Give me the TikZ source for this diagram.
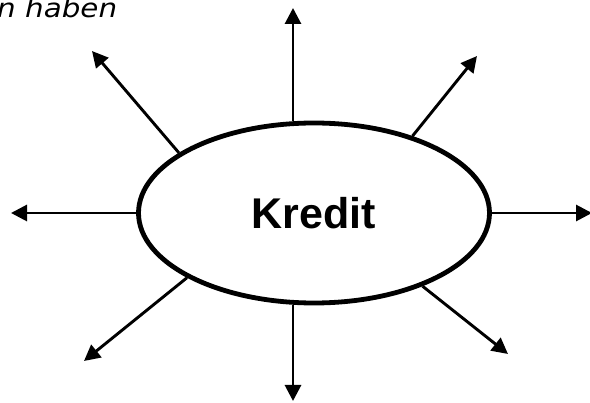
\documentclass[tikz,border=0pt]{standalone}
\usepackage{fontspec}
\setmainfont{Liberation Sans}
\newfontfamily\handfont{DejaVu Sans}
\usetikzlibrary{arrows.meta,shapes.geometric}
\begin{document}
\begin{tikzpicture}[x=1pt,y=-1pt,
  ray/.style={line width=2.9pt,-{Triangle[length=16pt,width=16pt]}},
  hub/.style={ellipse,draw,line width=4.8pt,minimum width=351pt,minimum height=180pt,
    inner sep=0pt,font=\fontsize{43}{50}\selectfont\bfseries}]
  \useasboundingbox (0,0) rectangle (590,403);
  \clip (0,0) rectangle (590,403);
  % handwritten-looking note in the corner, partly running off the edge
  \node[anchor=base west,inner sep=0pt,font=\handfont\itshape\fontsize{26}{28}\selectfont] (note) at (-3,18) {\scalebox{1.13}[1]{n haben}};
  \node[hub] (k) at (314,213) {Kredit};
  \coordinate (tn) at (293,8);
  \coordinate (ts) at (293,401);
  \coordinate (tw) at (11,213);
  \coordinate (te) at (592,213);
  \coordinate (tne) at (477,56);
  \coordinate (tnw) at (92,51);
  \coordinate (tsw) at (84,361);
  \coordinate (tse) at (508,354);
  \draw[ray] (k.north -| tn) -- (tn);
  \draw[ray] (k.south -| ts) -- (ts);
  \draw[ray] (k.west) -- (tw);
  \draw[ray] (k.east) -- (te);
  \draw[ray] (k.38) -- (tne);
  \draw[ray] (k.156) -- (tnw);
  \draw[ray] (k.207) -- (tsw);
  \draw[ray] (k.-34) -- (tse);
\end{tikzpicture}
\end{document}
